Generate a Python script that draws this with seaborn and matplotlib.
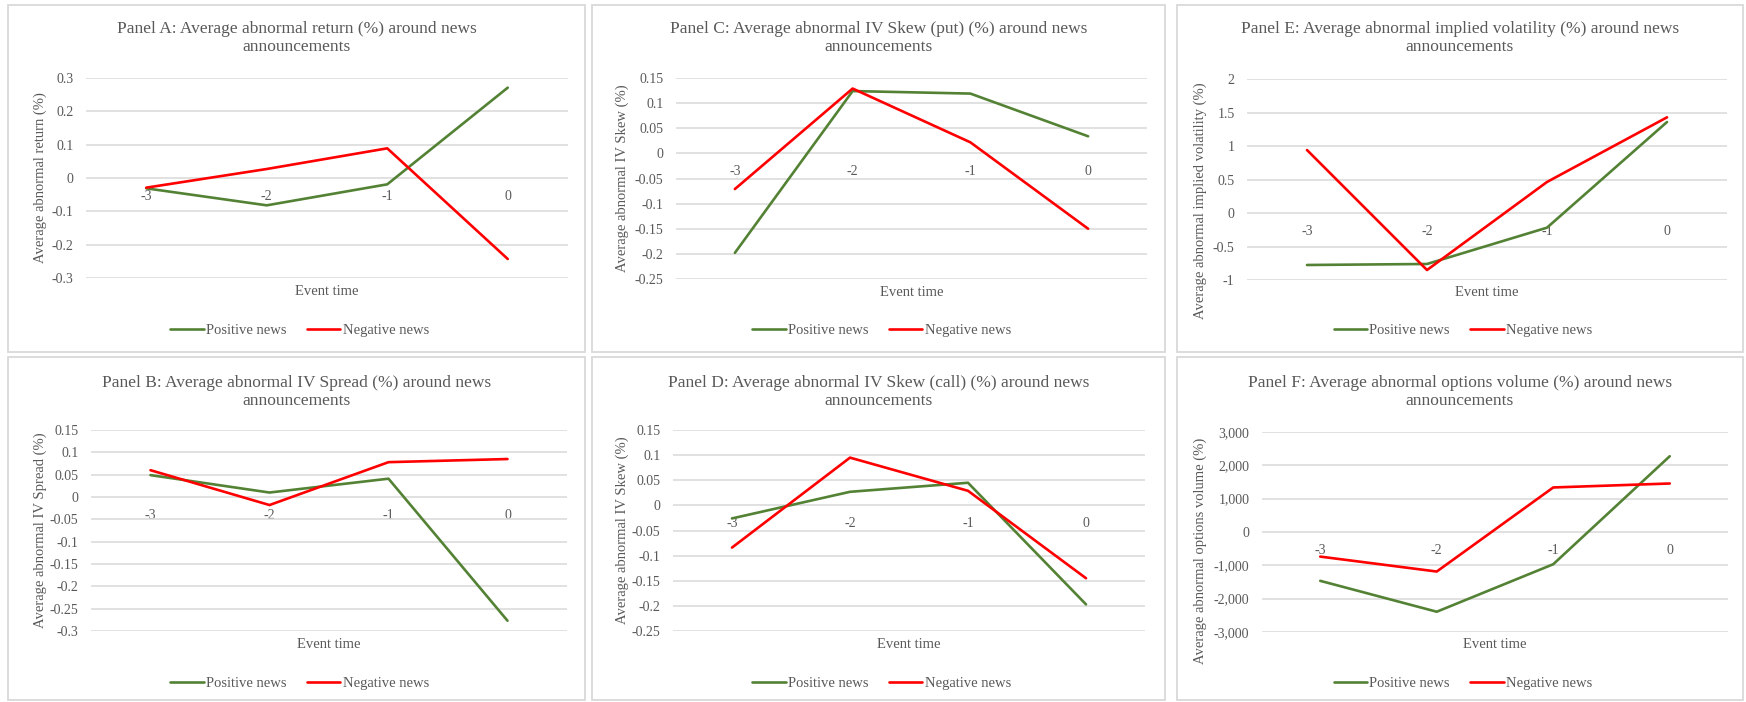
import matplotlib.pyplot as plt
import matplotlib.ticker as mticker
from matplotlib.patches import Rectangle
import pandas as pd
import seaborn as sns

sns.set_theme(style="white")
plt.rcParams['font.family'] = ['Liberation Serif', 'DejaVu Serif']
plt.rcParams['axes.unicode_minus'] = False

# ---- data ----
event_time = [-3, -2, -1, 0]
series_names = ['Positive news', 'Negative news']

# Panel A: abnormal return
return_pos = [-0.031, -0.082, -0.019, 0.271]
return_neg = [-0.029, 0.027, 0.089, -0.243]
# Panel B: IV spread
spread_pos = [0.049, 0.010, 0.041, -0.277]
spread_neg = [0.060, -0.018, 0.078, 0.085]
# Panel C: IV skew (put)
skew_put_pos = [-0.198, 0.124, 0.119, 0.034]
skew_put_neg = [-0.071, 0.129, 0.022, -0.150]
# Panel D: IV skew (call)
skew_call_pos = [-0.026, 0.027, 0.045, -0.197]
skew_call_neg = [-0.084, 0.095, 0.029, -0.145]
# Panel E: implied volatility
iv_pos = [-0.776, -0.761, -0.219, 1.358]
iv_neg = [0.940, -0.851, 0.463, 1.428]
# Panel F: options volume
volume_pos = [-1465, -2392, -967, 2273]
volume_neg = [-738, -1186, 1336, 1455]

titles = ['Panel A: Average abnormal return (%) around news\nannouncements',
          'Panel C: Average abnormal IV Skew (put) (%) around news\nannouncements',
          'Panel E: Average abnormal implied volatility (%) around news\nannouncements',
          'Panel B: Average abnormal IV Spread (%) around news\nannouncements',
          'Panel D: Average abnormal IV Skew (call) (%) around news\nannouncements',
          'Panel F: Average abnormal options volume (%) around news\nannouncements']
ylabels = ['Average abnormal return (%)',
           'Average abnormal IV Skew (%)',
           'Average abnormal implied volatility (%)',
           'Average abnormal IV Spread (%)',
           'Average abnormal IV Skew (%)',
           'Average abnormal options volume (%)']
values = [(return_pos, return_neg), (skew_put_pos, skew_put_neg),
          (iv_pos, iv_neg), (spread_pos, spread_neg),
          (skew_call_pos, skew_call_neg), (volume_pos, volume_neg)]
ylims = [(-0.3, 0.3), (-0.25, 0.15), (-1, 2),
         (-0.3, 0.15), (-0.25, 0.15), (-3000, 3000)]
ysteps = [0.1, 0.05, 0.5, 0.05, 0.05, 1000]

# ---- layout in pixels (fig is 1746 x 702) ----
W, H = 1746, 702
borders = [(8, 5, 585, 352), (592, 5, 1165, 352), (1177, 5, 1743, 352),
           (8, 357, 585, 700), (592, 357, 1165, 700), (1177, 357, 1743, 700)]
plot_boxes = [(86, 78, 568, 278), (676, 78, 1147, 279), (1247, 79, 1727, 280),
              (91, 430, 567, 631), (673, 430, 1145, 631), (1262, 432, 1728, 632)]
ylabel_x = [40, 622, 1200, 40, 622, 1200]
ylabel_shift = [0, 0, 21, 0, 0, 19]
title_y = [38, 38, 38, 392, 392, 392]
legend_y = [330, 330, 330, 683, 683, 683]

green = '#548235'
red = '#FF0000'
grey_text = '#595959'
grid_col = '#D9D9D9'


def fmt_general(v, pos=None):
    if abs(v) >= 1000:
        return '{:,.0f}'.format(v)
    return '{:g}'.format(round(v, 6))


fig = plt.figure(figsize=(W / 100, H / 100), dpi=100)

for i in range(6):
    x0, y0, x1, y1 = borders[i]
    fig.add_artist(Rectangle((x0 / W, 1 - y1 / H), (x1 - x0) / W, (y1 - y0) / H,
                             transform=fig.transFigure, fill=False,
                             edgecolor=grid_col, lw=1.3))

    l, t, r, b = plot_boxes[i]
    ax = fig.add_axes([l / W, 1 - b / H, (r - l) / W, (b - t) / H])

    pos, neg = values[i]
    df = pd.DataFrame({'event': event_time * 2,
                       'value': list(pos) + list(neg),
                       'series': [series_names[0]] * 4 + [series_names[1]] * 4})
    sns.lineplot(data=df, x='event', y='value', hue='series',
                 palette={series_names[0]: green, series_names[1]: red},
                 linewidth=1.9, ax=ax, legend=False)

    lo, hi = ylims[i]
    ax.set_ylim(lo, hi)
    ax.set_xlim(-3.5, 0.5)
    n = int(round((hi - lo) / ysteps[i]))
    ax.set_yticks([lo + k * ysteps[i] for k in range(n + 1)])
    ax.yaxis.set_major_formatter(mticker.FuncFormatter(fmt_general))
    ax.set_xticks(event_time)
    ax.set_xticklabels([str(e) for e in event_time])

    # category labels sit just under the zero line, like Excel
    for s in ax.spines.values():
        s.set_visible(False)
    ax.spines['bottom'].set_position(('data', 0))
    ax.grid(axis='y', color=grid_col, lw=1.1)
    ax.grid(axis='x', visible=False)
    ax.set_axisbelow(True)
    ax.tick_params(axis='y', length=0, pad=9, labelsize=10, labelcolor=grey_text)
    ax.tick_params(axis='x', length=0, pad=8.5, labelsize=10, labelcolor=grey_text)
    ax.set_xlabel('')
    ax.set_ylabel('')

    # y label
    yc = (t + b) / 2 + ylabel_shift[i]
    fig.text(ylabel_x[i] / W, 1 - yc / H, ylabels[i], rotation=90,
             ha='center', va='center', fontsize=10.5, color=grey_text)
    # x label
    fig.text((l + r) / 2 / W, 1 - (b + 13) / H, 'Event time',
             ha='center', va='center', fontsize=10.5, color=grey_text)
    # title
    fig.text((x0 + x1) / 2 / W, 1 - title_y[i] / H, titles[i],
             ha='center', va='center', fontsize=12.5, color=grey_text,
             linespacing=1.15)
    # legend
    handles = ax.get_lines()[:2]
    leg = ax.legend(handles, series_names, loc='center', ncol=2, frameon=False,
                    bbox_to_anchor=((x0 + x1) / 2 / W + 3 / W, 1 - legend_y[i] / H),
                    bbox_transform=fig.transFigure, fontsize=10.5,
                    handlelength=2.3, handletextpad=0.15, columnspacing=1.4,
                    borderpad=0)
    for txt in leg.get_texts():
        txt.set_color(grey_text)

fig.savefig('out.png', dpi=100)
